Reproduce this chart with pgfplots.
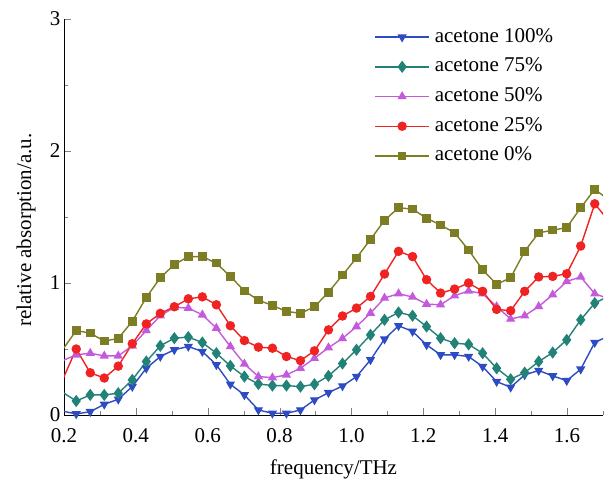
\documentclass[border=0pt]{standalone}
\usepackage{pgfplots}
\pgfplotsset{compat=1.18}
\usepackage{pgfplotstable}
\usepackage{fontspec}
\setmainfont{Liberation Serif}

\definecolor{cblue}{RGB}{45,75,195}
\definecolor{cteal}{RGB}{35,130,120}
\definecolor{cviolet}{RGB}{195,90,220}
\definecolor{cred}{RGB}{240,35,35}
\definecolor{colive}{RGB}{125,125,35}

% frequency (THz) and relative absorption for each acetone fraction
\pgfplotstableread{
f      a100   a75    a50    a25    a0
0.195  0.03   0.174  0.41   0.26   0.49
0.234  0.008  0.106  0.456  0.50   0.64
0.273  0.025  0.152  0.468  0.32   0.62
0.312  0.081  0.152  0.448  0.28   0.56
0.351  0.119  0.165  0.448  0.37   0.58
0.390  0.215  0.266  0.524  0.54   0.71
0.429  0.354  0.405  0.64   0.69   0.89
0.468  0.443  0.524  0.752  0.77   1.04
0.507  0.494  0.582  0.815  0.82   1.14
0.546  0.519  0.59   0.81   0.88   1.20
0.585  0.481  0.549  0.759  0.895  1.20
0.624  0.38   0.468  0.658  0.835  1.15
0.663  0.233  0.372  0.519  0.676  1.05
0.702  0.152  0.291  0.387  0.564  0.94
0.741  0.038  0.235  0.291  0.514  0.87
0.780  0.013  0.223  0.283  0.506  0.83
0.819  0.013  0.223  0.304  0.443  0.785
0.858  0.038  0.215  0.354  0.412  0.77
0.897  0.114  0.233  0.43   0.486  0.82
0.936  0.169  0.296  0.51   0.645  0.93
0.975  0.22   0.39   0.58   0.75   1.06
1.014  0.291  0.494  0.67   0.81   1.19
1.053  0.418  0.607  0.772  0.898  1.33
1.092  0.575  0.721  0.886  1.068  1.475
1.131  0.676  0.777  0.919  1.24   1.57
1.170  0.633  0.752  0.894  1.20   1.56
1.209  0.531  0.67   0.84   1.025  1.49
1.248  0.456  0.582  0.835  0.924  1.44
1.287  0.456  0.544  0.904  0.954  1.38
1.326  0.443  0.535  0.94   1.0    1.25
1.365  0.367  0.468  0.919  0.937  1.10
1.404  0.253  0.354  0.822  0.80   0.99
1.443  0.21   0.271  0.727  0.79   1.04
1.482  0.304  0.321  0.752  0.937  1.24
1.521  0.337  0.405  0.822  1.046  1.38
1.560  0.296  0.473  0.911  1.05   1.40
1.599  0.26   0.569  1.012  1.07   1.42
1.638  0.347  0.721  1.046  1.28   1.57
1.677  0.549  0.848  0.919  1.60   1.71
1.716  0.60   0.90   0.88   1.47   1.63
}\absdata

\begin{document}
\begin{tikzpicture}
\begin{axis}[
    scale only axis,
    width=539pt, height=396pt,
    xmin=0.2, xmax=1.7, ymin=0, ymax=3,
    axis x line*=bottom, axis y line*=left,
    tick align=inside,
    major tick length=7pt, minor tick length=4pt,
    xtick={0.2,0.4,0.6,0.8,1.0,1.2,1.4,1.6},
    minor xtick={0.3,0.5,0.7,0.9,1.1,1.3,1.5,1.7},
    ytick={0,1,2,3},
    minor ytick={0.5,1.5,2.5},
    /pgf/number format/assume math mode=true,
    tick label style={font=\fontsize{21}{21}\selectfont},
    xticklabel style={yshift=-10pt, /pgf/number format/.cd, fixed, fixed zerofill, precision=1},
    xlabel={frequency/THz},
    ylabel={relative absorption/a.u.},
    label style={font=\fontsize{21}{21}\selectfont},
    xlabel style={at={(axis description cs:0.5,-0.138)}, anchor=center},
    ylabel style={at={(axis description cs:-0.0705,0.467)}, anchor=center},
    legend style={at={(0.57,0.985)}, anchor=north west, draw=none, fill=none,
        font=\fontsize{21}{21}\selectfont, row sep=9.7pt, column sep=5pt,
        nodes={inner sep=0pt, text height=15pt, text depth=5pt}},
    legend cell align=left,
    legend image code/.code={
        \draw[mark repeat=2, mark phase=2] plot coordinates {(0pt,0pt) (27pt,0pt) (54pt,0pt)};
    },
    every axis plot/.append style={line width=1.4pt, mark size=4pt},
]
\addplot[cblue, mark=triangle*, mark options={rotate=180}] table[x=f, y=a100] {\absdata};
\addlegendentry{acetone 100\%}
\addplot[cteal, mark=diamond*, mark size=5pt] table[x=f, y=a75] {\absdata};
\addlegendentry{acetone 75\%}
\addplot[cviolet, mark=triangle*] table[x=f, y=a50] {\absdata};
\addlegendentry{acetone 50\%}
\addplot[cred, mark=*] table[x=f, y=a25] {\absdata};
\addlegendentry{acetone 25\%}
\addplot[colive, mark=square*, mark size=3.6pt] table[x=f, y=a0] {\absdata};
\addlegendentry{acetone 0\%}
\coordinate (bl) at (rel axis cs:0,0);
\coordinate (tr) at (rel axis cs:1,1);
\end{axis}
\pgfresetboundingbox
\path ([shift={(-64pt,-65pt)}]bl) rectangle ([shift={(3pt,19pt)}]tr);
\end{tikzpicture}
\end{document}
